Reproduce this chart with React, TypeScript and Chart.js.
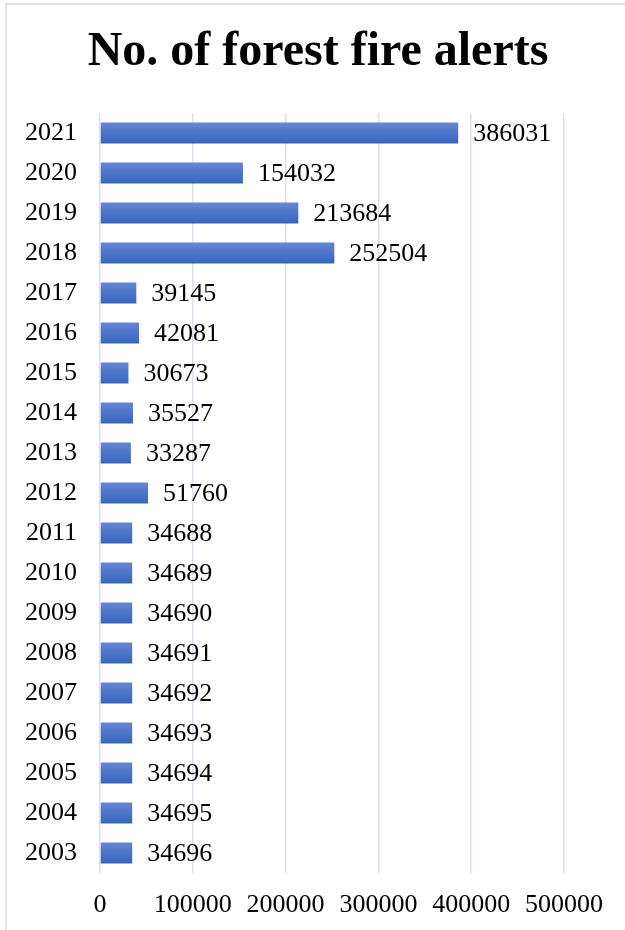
import React, { useEffect, useRef } from "react";
import { Chart, registerables } from "chart.js";

Chart.register(...registerables);

const years: string[] = [
  "2021", "2020", "2019", "2018", "2017", "2016", "2015", "2014", "2013", "2012",
  "2011", "2010", "2009", "2008", "2007", "2006", "2005", "2004", "2003",
];
const alerts: number[] = [
  386031, 154032, 213684, 252504, 39145, 42081, 30673, 35527, 33287, 51760,
  34688, 34689, 34690, 34691, 34692, 34693, 34694, 34695, 34696,
];
const xTicks: number[] = [0, 100000, 200000, 300000, 400000, 500000];
const chartTitle = "No. of forest fire alerts";

const FONT = "'Liberation Serif', 'Times New Roman', serif";
const BAR_PCT = 0.525;

const valueLabels = {
  id: "valueLabels",
  afterDatasetsDraw(chart: any) {
    const ctx = chart.ctx;
    const meta = chart.getDatasetMeta(0);
    ctx.save();
    ctx.font = `26px ${FONT}`;
    ctx.fillStyle = "#000";
    ctx.textAlign = "left";
    ctx.textBaseline = "middle";
    meta.data.forEach((bar: any, i: number) => {
      ctx.fillText(String(alerts[i]), bar.x + 15, bar.y + 1.5);
    });
    ctx.restore();
  },
};

const titlePlugin = {
  id: "customTitle",
  afterDraw(chart: any) {
    const ctx = chart.ctx;
    ctx.save();
    ctx.font = `bold 48px ${FONT}`;
    ctx.fillStyle = "#000";
    ctx.textAlign = "center";
    ctx.textBaseline = "middle";
    ctx.fillText(chartTitle, 318, 53);
    ctx.restore();
  },
};

export default function App() {
  const ref = useRef<HTMLCanvasElement | null>(null);

  useEffect(() => {
    document.body.style.margin = "0";
    const canvas = ref.current;
    if (!canvas) return;
    const chart = new Chart(canvas, {
      type: "bar",
      data: {
        labels: years,
        datasets: [
          {
            data: alerts,
            categoryPercentage: 1,
            barPercentage: BAR_PCT,
            borderWidth: 0,
            backgroundColor: (c: any) => {
              const ch = c.chart;
              const ys = ch.scales && ch.scales.y;
              if (!ch.chartArea || !ys || c.type !== "data") return "#4472c4";
              const center = ys.getPixelForValue(c.dataIndex);
              const half = (ys.height / years.length) * BAR_PCT / 2;
              const g = ch.ctx.createLinearGradient(0, center - half, 0, center + half);
              g.addColorStop(0, "#6686d3");
              g.addColorStop(1, "#3464c2");
              return g;
            },
          },
        ],
      },
      options: {
        indexAxis: "y",
        responsive: false,
        animation: false,
        layout: { padding: { left: 0, right: 61, top: 113, bottom: 0 } },
        plugins: {
          legend: { display: false },
          tooltip: { enabled: false },
          title: { display: false },
        },
        scales: {
          x: {
            min: 0,
            max: 500000,
            afterBuildTicks: (s: any) => {
              s.ticks = xTicks.map((v) => ({ value: v }));
            },
            afterFit: (s: any) => {
              s.height = 57;
            },
            ticks: {
              color: "#000",
              font: { family: FONT, size: 26 },
              padding: 17,
              maxRotation: 0,
              autoSkip: false,
              callback: (v: any) => String(v),
            },
            grid: { color: "#dde2ea", lineWidth: 1.5, drawTicks: false },
            border: { display: false },
          },
          y: {
            afterFit: (s: any) => {
              s.width = 100;
            },
            ticks: {
              color: "#000",
              font: { family: FONT, size: 26 },
              padding: 23,
              autoSkip: false,
            },
            grid: { display: false, drawTicks: false },
            border: { display: false },
          },
        },
      },
      plugins: [valueLabels, titlePlugin],
    });
    return () => chart.destroy();
  }, []);

  return (
    <div style={{ position: "relative", width: 625, height: 930, background: "#fff", overflow: "hidden" }}>
      <div
        style={{
          position: "absolute",
          left: 5,
          top: 3,
          width: 700,
          height: 1000,
          borderTop: "2px solid #dfe3e8",
          borderLeft: "2px solid #dfe3e8",
          boxSizing: "border-box",
        }}
      />
      <canvas ref={ref} width={625} height={930} style={{ position: "absolute", left: 0, top: 0, display: "block" }} />
    </div>
  );
}
